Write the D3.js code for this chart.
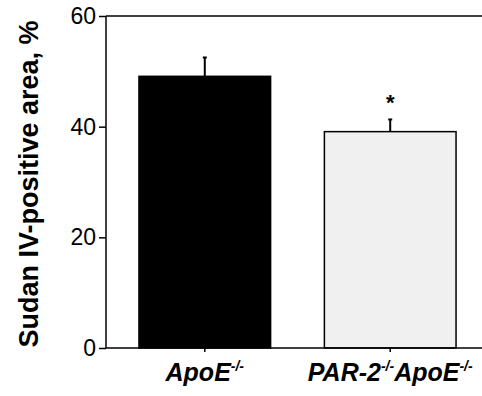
<!DOCTYPE html>
<html>
<head>
<meta charset="utf-8">
<script src="https://cdn.jsdelivr.net/npm/d3@7"></script>
<style>
  body { margin: 0; background: #fff; }
  text { font-family: "Liberation Sans", Arial, sans-serif; }
</style>
</head>
<body>
<svg width="482" height="396"></svg>
<script>
const groups = ['ApoE', 'PAR-2 ApoE'];
const means = [49.1, 39.1];
const errors = [3.4, 2.2];
const fills = ['#000000', '#f0f0f0'];
const sigMarks = ['', '*'];
const yTicks = [0, 20, 40, 60];

const svg = d3.select('svg');
const margin = { left: 106, right: 0, top: 16, bottom: 48 };
const W = 482, H = 396;

const x = d3.scaleBand()
    .domain(groups)
    .range([113, W])
    .paddingInner(0.29)
    .paddingOuter(0.14);

const y = d3.scaleLinear()
    .domain([0, 60])
    .range([H - margin.bottom, margin.top]);

// top frame line
svg.append('line')
    .attr('x1', margin.left).attr('x2', W)
    .attr('y1', y(60)).attr('y2', y(60))
    .attr('stroke', '#000').attr('stroke-width', 1.5);

// bars
svg.selectAll('.bar')
    .data(groups)
    .enter()
    .append('rect')
    .attr('class', 'bar')
    .attr('x', d => x(d))
    .attr('y', (d, i) => y(means[i]))
    .attr('width', x.bandwidth())
    .attr('height', (d, i) => y(0) - y(means[i]))
    .attr('fill', (d, i) => fills[i])
    .attr('stroke', '#000')
    .attr('stroke-width', 1.5);

// error bars (upper only)
const eb = svg.selectAll('.err')
    .data(groups)
    .enter()
    .append('g');
eb.append('line')
    .attr('x1', d => x(d) + x.bandwidth() / 2)
    .attr('x2', d => x(d) + x.bandwidth() / 2)
    .attr('y1', (d, i) => y(means[i]))
    .attr('y2', (d, i) => y(means[i] + errors[i]))
    .attr('stroke', '#000').attr('stroke-width', 2);
eb.append('line')
    .attr('x1', d => x(d) + x.bandwidth() / 2 - 2)
    .attr('x2', d => x(d) + x.bandwidth() / 2 + 2)
    .attr('y1', (d, i) => y(means[i] + errors[i]))
    .attr('y2', (d, i) => y(means[i] + errors[i]))
    .attr('stroke', '#000').attr('stroke-width', 2);

// significance marks
svg.selectAll('.sig')
    .data(groups)
    .enter()
    .append('text')
    .attr('x', d => x(d) + x.bandwidth() / 2)
    .attr('y', (d, i) => y(means[i] + errors[i]) - 9)
    .attr('text-anchor', 'middle')
    .attr('font-size', 22)
    .attr('font-weight', 'bold')
    .text((d, i) => sigMarks[i]);

// y axis
const yAxis = svg.append('g')
    .attr('transform', `translate(${margin.left},0)`)
    .call(d3.axisLeft(y).tickValues(yTicks).tickSize(7).tickPadding(3).tickFormat(d3.format('d')));
yAxis.select('.domain').attr('stroke-width', 1.5).attr('d', `M0,${y(0)}V${y(60)}`);
yAxis.selectAll('.tick line').attr('stroke-width', 1.5);
yAxis.selectAll('.tick text')
    .attr('font-size', 23)
    .attr('fill', '#000')
    .style('font-family', '"Liberation Sans", Arial, sans-serif');

// x axis
const xAxis = svg.append('g')
    .attr('transform', `translate(0,${y(0)})`)
    .call(d3.axisBottom(x).tickSize(4).tickFormat(''));
xAxis.select('.domain').attr('stroke-width', 1.5).attr('d', `M${margin.left},0H${W}`);
xAxis.selectAll('.tick line').attr('stroke-width', 1.5);

// x labels with superscripts
const labelParts = [
    [['ApoE', false], ['-/-', true]],
    [['PAR-2', false], ['-/-', true], ['ApoE', false], ['-/-', true]]
];
svg.selectAll('.xlab')
    .data(groups)
    .enter()
    .append('text')
    .attr('x', d => x(d) + x.bandwidth() / 2)
    .attr('y', 381)
    .attr('text-anchor', 'middle')
    .attr('font-size', 25)
    .attr('font-weight', 'bold')
    .attr('font-style', 'italic')
    .each(function (d, i) {
        const t = d3.select(this);
        labelParts[i].forEach(([s, sup], k) => {
            const prevSup = k > 0 && labelParts[i][k - 1][1];
            t.append('tspan')
                .attr('font-size', sup ? 14 : 25)
                .attr('dy', sup ? -10 : (prevSup ? 10 : 0))
                .text(s);
        });
    });

// y title
svg.append('text')
    .attr('transform', `translate(38,${(y(0) + y(60)) / 2 + 2}) rotate(-90)`)
    .attr('text-anchor', 'middle')
    .attr('font-size', 27)
    .attr('font-weight', 'bold')
    .text('Sudan IV-positive area, %');
</script>
</body>
</html>
